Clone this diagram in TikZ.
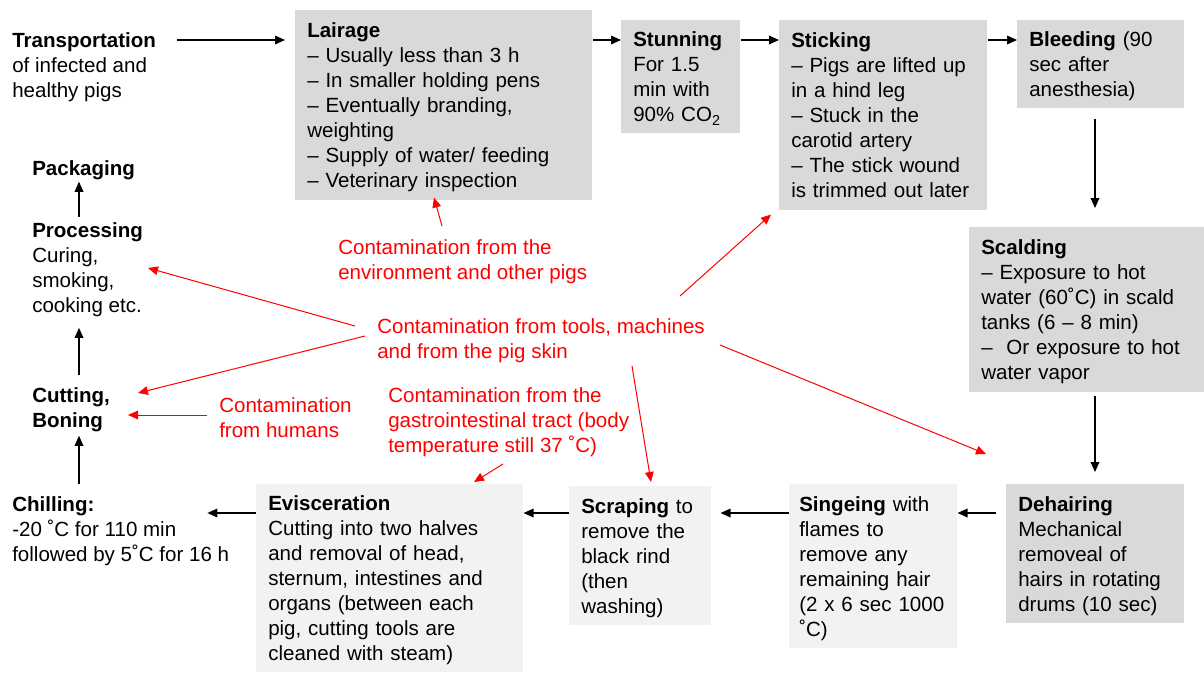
\documentclass[tikz,border=0pt]{standalone}
\usepackage{fontspec}
\setmainfont{Liberation Sans}
\usetikzlibrary{arrows.meta, calc}

\definecolor{stagegray}{RGB}{217,217,217}
\definecolor{stagelight}{RGB}{242,242,242}
\definecolor{contamred}{RGB}{255,0,0}

\newcommand{\flowfont}{\fontsize{15.4}{18.75}\selectfont}

\tikzset{
  stagebox/.style={anchor=north west, align=left, inner xsep=9pt, inner ysep=0pt, font=\flowfont,
    execute at begin node={\rule{0pt}{15pt}}, execute at end node={\rule[-4pt]{0pt}{4pt}}},
  darkstage/.style={stagebox, fill=stagegray},
  lightstage/.style={stagebox, fill=stagelight},
  plaintext/.style={anchor=north west, align=left, inner sep=0pt, font=\flowfont},
  redtext/.style={plaintext, text=contamred},
  flow/.style={-{Triangle[length=7.5pt,width=6.5pt]}, line width=0.9pt, black},
  contam/.style={-{Triangle[length=7.5pt,width=6.5pt]}, line width=0.75pt, contamred},
}

\begin{document}
\begin{tikzpicture}[x=0.75pt,y=0.75pt,yscale=-1,xscale=1]
\useasboundingbox (0,0) rectangle (1204,672);

%Shape: Rectangle, top row
\node[darkstage, text width=204.75pt, minimum height=142.5pt] (lair) at (295,10) {\textbf{Lairage}\\– Usually less than 3 h\\– In smaller holding pens\\– Eventually branding,\\weighting\\– Supply of water/ feeding\\– Veterinary inspection};
\node[darkstage, text width=71.25pt, minimum height=84.75pt] (stun) at (621,20) {\textbf{Stunning}\\For 1.5\\min with\\90\% CO\textsubscript{2}};
\node[darkstage, text width=138pt, minimum height=142.5pt] (stick) at (779,20) {\textbf{Sticking}\\– Pigs are lifted up\\in a hind leg\\– Stuck in the\\carotid artery\\– The stick wound\\is trimmed out later};
\node[darkstage, text width=107.25pt, minimum height=66pt] (bleed) at (1017,20) {\textbf{Bleeding} (90\\sec after\\anesthesia)};

%Shape: Rectangle, right column
\node[darkstage, text width=158.25pt, minimum height=123.75pt] (scald) at (969,227) {\textbf{Scalding}\\– Exposure to hot\\water (60˚C) in scald\\tanks (6 – 8 min)\\–\ \ Or exposure to hot\\water vapor};
\node[darkstage, text width=115.5pt, minimum height=104.25pt] (dehair) at (1006,484) {\textbf{Dehairing}\\Mechanical\\removeal of\\hairs in rotating\\drums (10 sec)};

%Shape: Rectangle, bottom row
\node[lightstage, inner xsep=7.5pt, text width=111pt, minimum height=123pt] (singe) at (789,484) {\textbf{Singeing} with\\flames to\\remove any\\remaining hair\\(2 x 6 sec 1000\\˚C)};
\node[lightstage, text width=88.5pt, minimum height=104.25pt] (scrap) at (569,486) {\textbf{Scraping} to\\remove the\\black rind\\(then\\washing)};
\node[lightstage, text width=182.25pt, minimum height=141pt] (evis) at (256,484) {\textbf{Evisceration}\\Cutting into two halves\\and removal of head,\\sternum, intestines and\\organs (between each\\pig, cutting tools are\\cleaned with steam)};

% Text Node
\node[plaintext] (trans) at (12,32) {\textbf{Transportation}\\of infected and\\healthy pigs};
\node[plaintext] (chill) at (12,496) {\textbf{Chilling:}\\-20 ˚C for 110 min\\followed by 5˚C for 16 h};
\node[plaintext] (cut) at (32,387) {\textbf{Cutting,}\\\textbf{Boning}};
\node[plaintext] (proc) at (32,222) {\textbf{Processing}\\Curing,\\smoking,\\cooking etc.};
\node[plaintext] (pack) at (32,160) {\textbf{Packaging}};

% Text Node, contamination
\node[redtext] (envtxt) at (338,239) {Contamination from the\\environment and other pigs};
\node[redtext] (tooltxt) at (377,318) {Contamination from tools, machines\\and from the pig skin};
\node[redtext] (guttxt) at (388,387) {Contamination from the\\gastrointestinal tract (body\\temperature still 37 ˚C)};
\node[redtext] (humantxt) at (219,397) {Contamination\\from humans};

\coordinate (toprow) at (0,40);
\coordinate (botrow) at (0,513);
\coordinate (rightcol) at (1095,0);
\coordinate (leftcol) at (79,0);

%Straight Lines
\draw[flow, shorten <=15.75pt, shorten >=7.5pt] (trans.east |- toprow) -- (lair.west |- toprow);
\draw[flow] (lair.east |- toprow) -- (stun.west |- toprow);
\draw[flow] (stun.east |- toprow) -- (stick.west |- toprow);
\draw[flow] (stick.east |- toprow) -- (bleed.west |- toprow);
\draw[flow, shorten <=7.5pt, shorten >=14.25pt] (bleed.south -| rightcol) -- (scald.north -| rightcol);
\draw[flow, shorten <=2.25pt, shorten >=9pt] (scald.south -| rightcol) -- (dehair.north -| rightcol);
\draw[flow, shorten <=7.5pt] (dehair.west |- botrow) -- (singe.east |- botrow);
\draw[flow, shorten >=6.75pt] (singe.west |- botrow) -- (scrap.east |- botrow);
\draw[flow] (scrap.west |- botrow) -- (evis.east |- botrow);
\draw[flow, shorten >=-16.5pt] (evis.west |- botrow) -- (chill.east |- botrow);
\draw[flow, shorten <=9pt, shorten >=3pt] (chill.north -| leftcol) -- (cut.south -| leftcol);
\draw[flow, shorten <=9pt, shorten >=8.4pt] (cut.north -| leftcol) -- (proc.south -| leftcol);
\draw[flow, shorten <=4pt, shorten >=1.5pt] (proc.north -| leftcol) -- (pack.south -| leftcol);

%Straight Lines, contamination
\draw[contam] ($(envtxt.north west)+(104,-13)$) -- ($(lair.south west)+(139,-3)$);
\draw[contam] ($(tooltxt.north west)+(-22,8)$) -- ($(proc.north west)+(116,46)$);
\draw[contam] ($(tooltxt.north west)+(-12,18)$) -- ($(cut.north west)+(106,6)$);
\draw[contam] ($(tooltxt.north west)+(303,-22)$) -- ($(stick.south west)+(-8,4)$);
\draw[contam] ($(tooltxt.north west)+(343,27)$) -- ($(dehair.north west)+(-20,-30)$);
\draw[contam] ($(tooltxt.north west)+(255,48)$) -- ($(scrap.north west)+(82,-4)$);
\draw[contam] ($(guttxt.north west)+(115,77)$) -- ($(evis.north west)+(218,-2)$);
\draw[contam] ($(humantxt.north west)+(-12,18)$) -- ($(cut.north west)+(96,28)$);

\end{tikzpicture}
\end{document}
